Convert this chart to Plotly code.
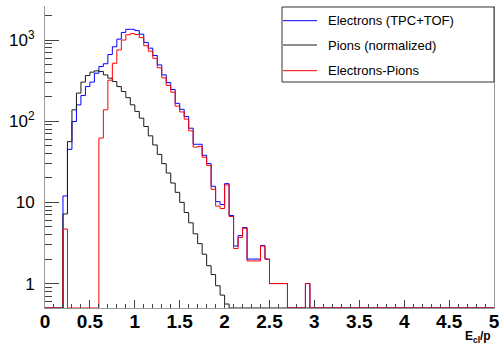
import math
import plotly.graph_objects as go

# ---------------- data (bin width 0.05, from 0 to 5) ----------------
bin_width = 0.05
n_bins = 100

electrons_tpc_tof = [
    0, 0, 0, 0, 12, 45, 99, 159, 207, 267,
    303, 390, 472, 510, 663, 826, 1025, 1240, 1355, 1355,
    1306, 1180, 935, 794, 645, 494, 372, 299, 246, 166,
    140, 114, 82, 52, 52, 38, 30, 15.8, 10.2, 9.4,
    17, 6.9, 2.9, 3.9, 4.9, 2.0, 2.0, 2.0, 2.95, 2.0,
    1.0, 1.0, 1.0, 1.0, 0, 0, 0, 0, 1.0, 0,
] + [0] * 40

pions_normalized = [
    0, 0, 0, 0, 7.2, 56, 138, 222, 303, 365,
    402, 417, 410, 372, 339, 308, 267, 232, 195, 159,
    132, 109, 86, 66, 51, 39, 30, 23, 17.3, 13.3,
    10, 7.5, 5.6, 4.1, 3.1, 2.3, 1.66, 1.29, 0.94, 0.72,
    0.56, 0, 0, 0, 0, 0, 0, 0, 0, 0,
] + [0] * 50

electrons_minus_pions = [
    0, 0, 0, 0, 4.7, 0, 0, 0, 0, 0,
    0, 0, 62, 138, 320, 518, 755, 1000, 1160, 1199,
    1170, 1070, 850, 728, 595, 455, 342, 276, 228, 153,
    130, 106, 76, 48, 49, 36, 28.5, 14.5, 9.0, 8.4,
    16.4, 6.7, 2.7, 3.7, 4.8, 1.9, 1.9, 1.9, 2.9, 2.0,
    1.0, 1.0, 1.0, 1.0, 0, 0, 0, 0, 1.0, 0,
] + [0] * 40

x_tick_vals = [0, 0.5, 1, 1.5, 2, 2.5, 3, 3.5, 4, 4.5, 5]
x_tick_text = ["0", "0.5", "1", "1.5", "2", "2.5", "3", "3.5", "4", "4.5", "5"]
y_tick_vals = [1, 10, 100, 1000]
y_tick_text = ["1", "10", "10<sup>2</sup>", "10<sup>3</sup>"]

legend_labels = ["Electrons (TPC+TOF)", "Pions (normalized)", "Electrons-Pions"]

# ---------------- figure ----------------
YMIN = 0.5
YMAX_LOG = 3.419
W, H = 502, 347
ML, MR, MT, MB = 45, 8, 6, 39
PW, PH = W - ML - MR, H - MT - MB


def px2x(px):
    return (px - ML) / PW


def py2y(py):
    return (H - MB - py) / PH


edges = [i * bin_width for i in range(n_bins + 1)]


def step_trace(vals, color, name):
    yv = [v if v > 0 else YMIN for v in vals]
    yv = yv + [yv[-1]]
    return go.Scatter(x=edges, y=yv, mode="lines", line=dict(color=color, width=1, shape="hv"),
                      name=name, hoverinfo="skip")


colors = ["#0000ff", "#1a1a1a", "#ff0000"]
fig = go.Figure()
fig.add_trace(step_trace(electrons_tpc_tof, colors[0], legend_labels[0]))
fig.add_trace(step_trace(pions_normalized, colors[1], legend_labels[1]))
fig.add_trace(step_trace(electrons_minus_pions, colors[2], legend_labels[2]))

minor_y = []
for dec in [0.1, 1, 10, 100, 1000]:
    for m in range(2, 10):
        v = m * dec
        if YMIN <= v <= 10 ** YMAX_LOG:
            minor_y.append(v)

FONT = "Liberation Sans, Arial, Helvetica, sans-serif"

fig.update_layout(
    width=W, height=H,
    margin=dict(l=ML, r=MR, t=MT, b=MB, autoexpand=False),
    plot_bgcolor="white", paper_bgcolor="white",
    showlegend=False,
    font=dict(family=FONT, color="black"),
    xaxis=dict(
        range=[0, 5], tickmode="array", tickvals=x_tick_vals, ticktext=x_tick_text,
        ticks="inside", ticklen=8, tickcolor="#444", tickwidth=1,
        showline=True, linecolor="#999", linewidth=1, mirror=False,
        showgrid=False, zeroline=False, automargin=False, ticklabelstandoff=-4,
        tickfont=dict(size=19, family=FONT, weight="bold", color="black"),
        minor=dict(ticks="inside", ticklen=4, dtick=0.1, tick0=0, tickcolor="#444", showgrid=False),
    ),
    yaxis=dict(
        type="log", range=[math.log10(YMIN), YMAX_LOG],
        tickmode="array", tickvals=y_tick_vals, ticktext=y_tick_text,
        ticks="inside", ticklen=14, tickcolor="#444", tickwidth=1,
        showline=True, linecolor="#999", linewidth=1, mirror=True,
        showgrid=False, zeroline=False, ticklabelstandoff=6, automargin=False,
        tickfont=dict(size=17, family=FONT, color="black"),
        minor=dict(ticks="inside", ticklen=7, tickmode="array", tickvals=minor_y,
                   tickcolor="#444", showgrid=False),
    ),
)

# legend box (ROOT TLegend style)
shapes = [dict(type="rect", xref="paper", yref="paper",
               x0=px2x(282), x1=px2x(494), y0=py2y(82), y1=py2y(7),
               line=dict(color="#333", width=1), fillcolor="white", layer="above")]
rows = [20.7, 45.0, 70.7]
annotations = []
for label, color, ry in zip(legend_labels, colors, rows):
    shapes.append(dict(type="line", xref="paper", yref="paper",
                       x0=px2x(283), x1=px2x(317), y0=py2y(ry), y1=py2y(ry),
                       line=dict(color=color, width=1), layer="above"))
    annotations.append(dict(text=label, xref="paper", yref="paper",
                            x=px2x(325.5), y=py2y(ry), xanchor="left", yanchor="middle",
                            showarrow=False, font=dict(size=13, family=FONT, color="black")))

annotations.append(dict(text="<b>E<sub>cl</sub>/p</b>", xref="paper", yref="paper",
                        x=px2x(493), y=py2y(337), xanchor="right", yanchor="middle",
                        showarrow=False, font=dict(size=12, family=FONT, color="black")))

fig.update_layout(shapes=shapes, annotations=annotations)
fig.write_html("out.html", config={"displayModeBar": False},
               post_script="document.body.style.margin='0px';document.body.style.padding='0px';")
